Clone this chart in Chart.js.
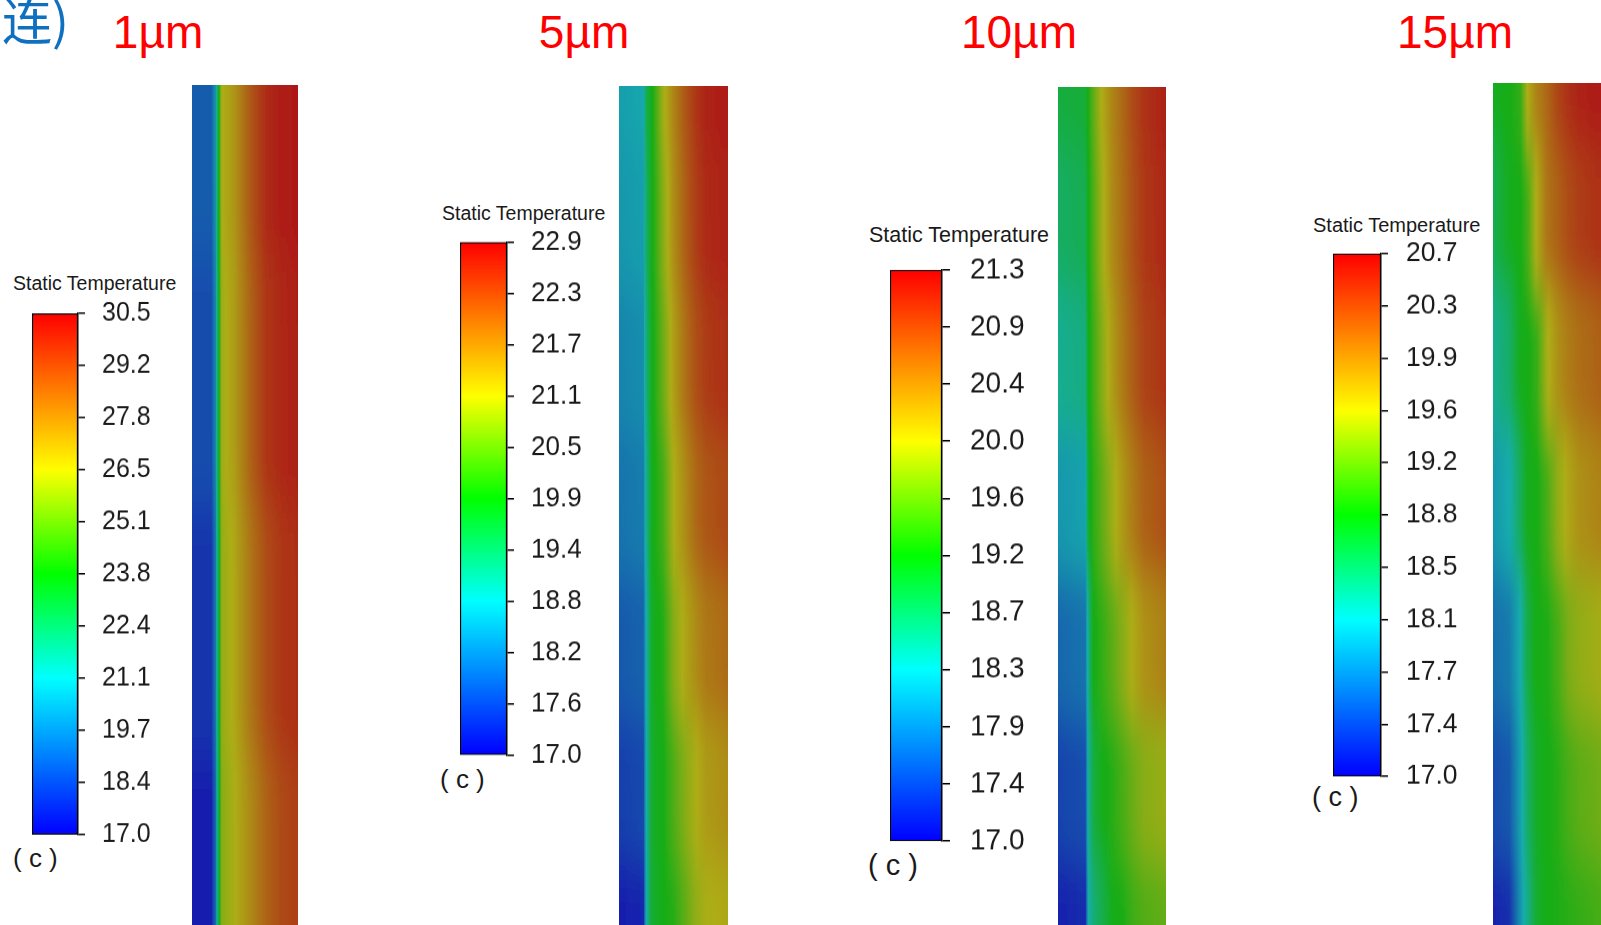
<!DOCTYPE html>
<html>
<head>
<meta charset="utf-8">
<script src="https://cdn.jsdelivr.net/npm/chart.js@4.4.0/dist/chart.umd.min.js"></script>
<style>
    html, body { margin: 0; padding: 0; background: #fff; overflow: hidden; }
    body { width: 1601px; height: 925px; position: relative; font-family: "Liberation Sans", Arial, sans-serif; }
    .abs { position: absolute; white-space: nowrap; }
    .title { color: #ff0000; font-size: 46px; line-height: 46px; width: 200px; text-align: center; top: 9px; }
    .lbl { color: #1a1a1a; }
    .clip { position: absolute; overflow: hidden; }
    canvas { position: absolute; display: block; }
    .smooth { filter: url(#vblur); }
</style>
</head>
<body>
<svg width="0" height="0" style="position:absolute">
    <filter id="vblur" x="0" y="0" width="1" height="1">
        <feGaussianBlur stdDeviation="0 26"/>
    </filter>
</svg>
<div class="abs" style="left:-15px;top:-7px;font-family:'Noto Sans CJK SC';font-size:50px;line-height:50px;color:#1070c0;">(连)</div>

<script>
// Panel names (film thickness)
const panelNames = ['1µm', '5µm', '10µm', '15µm'];

// Colour bar tick labels, bottom to top (°C)
const ticks1 = [17.0, 18.4, 19.7, 21.1, 22.4, 23.8, 25.1, 26.5, 27.8, 29.2, 30.5];
const ticks5 = [17.0, 17.6, 18.2, 18.8, 19.4, 19.9, 20.5, 21.1, 21.7, 22.3, 22.9];
const ticks10 = [17.0, 17.4, 17.9, 18.3, 18.7, 19.2, 19.6, 20.0, 20.4, 20.9, 21.3];
const ticks15 = [17.0, 17.4, 17.7, 18.1, 18.5, 18.8, 19.2, 19.6, 19.9, 20.3, 20.7];

// Contour strips: column edges (% of strip width) and temperature at each edge, rows top to bottom
const stripX1 = [0, 18, 22, 25, 28, 40, 55, 70, 85, 100];
const strip1 = [
    [18.9, 18.9, 20.3, 23.5, 26.4, 27.1, 28.7, 29.9, 30.3, 30.4],
    [18.5, 18.5, 20.0, 23.3, 26.2, 26.9, 28.4, 29.6, 30.0, 30.2],
    [17.9, 17.9, 19.6, 23.0, 26.0, 26.6, 27.9, 29.0, 29.6, 29.8],
    [17.3, 17.3, 19.2, 22.8, 25.8, 26.4, 27.4, 28.4, 29.1, 29.4]
];

const stripX5 = [0, 22, 25, 30, 40, 50, 60, 70, 80, 100];
const strip5 = [
    [18.6, 18.7, 19.5, 19.9, 21.0, 21.6, 22.1, 22.5, 22.75, 22.8],
    [18.5, 18.6, 19.3, 19.9, 20.8, 21.5, 22.0, 22.4, 22.65, 22.75],
    [18.3, 18.4, 19.2, 19.85, 20.6, 21.3, 21.8, 22.2, 22.45, 22.6],
    [18.1, 18.2, 19.0, 19.85, 20.3, 21.1, 21.5, 21.9, 22.15, 22.3],
    [17.8, 17.9, 18.8, 19.8, 20.05, 20.8, 21.2, 21.5, 21.75, 21.9],
    [17.5, 17.6, 18.8, 19.75, 19.95, 20.4, 20.8, 21.1, 21.35, 21.5],
    [17.1, 17.2, 18.8, 19.7, 19.95, 20.1, 20.5, 20.9, 21.1, 21.2]
];

const stripX10 = [0, 25, 28, 33, 40, 50, 60, 70, 80, 100];
const strip10 = [
    [18.9, 18.95, 19.2, 19.6, 20.0, 20.35, 20.6, 20.85, 21.05, 21.2],
    [18.7, 18.8, 19.15, 19.5, 19.9, 20.3, 20.55, 20.8, 21.0, 21.15],
    [18.45, 18.55, 19.1, 19.4, 19.75, 20.15, 20.45, 20.7, 20.9, 21.05],
    [18.1, 18.2, 19.0, 19.3, 19.55, 19.9, 20.2, 20.45, 20.65, 20.8],
    [17.7, 17.8, 18.5, 19.15, 19.3, 19.55, 19.8, 20.05, 20.25, 20.4],
    [17.4, 17.5, 18.4, 18.9, 19.1, 19.25, 19.45, 19.65, 19.8, 19.9],
    [17.1, 17.2, 18.3, 18.6, 18.8, 19.1, 19.2, 19.4, 19.5, 19.6]
];

const stripX15 = [0, 15, 25, 32, 40, 50, 60, 70, 80, 100];
const strip15 = [
    [18.78, 18.85, 19.0, 19.6, 19.9, 20.1, 20.35, 20.5, 20.6, 20.65],
    [18.55, 18.8, 18.85, 19.1, 19.6, 20.0, 20.15, 20.3, 20.4, 20.5],
    [18.25, 18.45, 18.8, 18.85, 19.0, 19.55, 19.8, 19.95, 20.05, 20.15],
    [17.95, 18.1, 18.5, 18.8, 18.85, 19.1, 19.45, 19.65, 19.8, 19.9],
    [17.65, 17.75, 18.1, 18.6, 18.85, 18.9, 19.1, 19.35, 19.45, 19.55],
    [17.4, 17.5, 18.0, 18.45, 18.75, 18.85, 18.95, 19.1, 19.2, 19.3],
    [17.1, 17.2, 17.9, 18.3, 18.7, 18.85, 18.9, 18.95, 19.0, 19.1]
];

// page layout for each panel (pixels)
const panels = [
    { name: panelNames[0], ticks: ticks1, xs: stripX1, rows: strip1, titleX: 158,
      bar: [32, 312, 46, 524], font: 25, tickLen: 7, pad: 17,
      st: [13, 274, 19.5], cLbl: [13, 845, 26], strip: [192, 85, 106, 840] },
    { name: panelNames[1], ticks: ticks5, xs: stripX5, rows: strip5, titleX: 584,
      bar: [460, 241, 47, 515], font: 26, tickLen: 7, pad: 17,
      st: [442, 204, 19.5], cLbl: [440, 766, 26], strip: [619, 86, 109, 839] },
    { name: panelNames[2], ticks: ticks10, xs: stripX10, rows: strip10, titleX: 1019,
      bar: [890, 268, 52, 575], font: 28, tickLen: 8, pad: 20,
      st: [869, 225, 21.5], cLbl: [868, 851, 29], strip: [1058, 87, 108, 838] },
    { name: panelNames[3], ticks: ticks15, xs: stripX15, rows: strip15, titleX: 1455,
      bar: [1333, 252, 48, 526], font: 26.5, tickLen: 7, pad: 18,
      st: [1313, 215, 20], cLbl: [1312, 784, 27], strip: [1493, 83, 108, 842] }
];

// Fluent-style rainbow colour map
const cmapStops = [
    [0, [0, 0, 255]],
    [0.3, [0, 255, 255]],
    [0.5, [0, 255, 0]],
    [0.7, [255, 255, 0]],
    [1, [255, 0, 0]]
];

function cmap(f) {
    f = Math.max(0, Math.min(1, f));
    for (let i = 1; i < cmapStops.length; i++) {
        const [f1, c1] = cmapStops[i];
        const [f0, c0] = cmapStops[i - 1];
        if (f <= f1) {
            const t = (f - f0) / (f1 - f0);
            return c0.map((v, k) => v + (c1[k] - v) * t);
        }
    }
    return cmapStops[cmapStops.length - 1][1];
}

function toColor(f, shaded) {
    const c = cmap(f).map(v => shaded ? v * 0.6 + 20 : v);
    return 'rgb(' + c.map(v => Math.round(v)).join(',') + ')';
}

// gradient stops between two fractions, adding colour-map breakpoints in between
function addStops(g, f0, f1, shaded) {
    g.addColorStop(0, toColor(f0, shaded));
    if (f1 !== f0) {
        cmapStops.forEach(([fs]) => {
            const t = (fs - f0) / (f1 - f0);
            if (t > 0 && t < 1) g.addColorStop(t, toColor(fs, shaded));
        });
    }
    g.addColorStop(1, toColor(f1, shaded));
}

function makeCanvas(x, y, w, h, parent) {
    const cv = document.createElement('canvas');
    cv.width = w; cv.height = h;
    cv.style.left = x + 'px'; cv.style.top = y + 'px';
    cv.style.width = w + 'px'; cv.style.height = h + 'px';
    (parent || document.body).appendChild(cv);
    return cv;
}

function addText(text, cls, style) {
    const d = document.createElement('div');
    d.className = 'abs ' + cls;
    d.textContent = text;
    Object.assign(d.style, style);
    document.body.appendChild(d);
}

function displayColorBar(p) {
    const ticks = p.ticks;
    const lo = ticks[0], hi = ticks[ticks.length - 1];
    const [bx, by, bw, bh] = p.bar;
    const axisW = 90;
    const cv = makeCanvas(bx, by - 20, bw + axisW, bh + 40);
    const chart = new Chart(cv.getContext('2d'), {
        type: 'bar',
        data: {
            labels: [''],
            datasets: [{
                data: [[lo, hi]],
                backgroundColor: (c) => {
                    const y = c.chart.scales.y;
                    if (!y || !c.chart.chartArea) return '#888';
                    const y0 = y.getPixelForValue(lo), y1 = y.getPixelForValue(hi);
                    if (!isFinite(y0) || !isFinite(y1)) return '#888';
                    const g = c.chart.ctx.createLinearGradient(0, y0, 0, y1);
                    addStops(g, 0, 1, false);
                    return g;
                },
                borderColor: '#000',
                borderWidth: 1.5,
                borderSkipped: false,
                barPercentage: 1,
                categoryPercentage: 1
            }]
        },
        options: {
            responsive: false,
            animation: false,
            devicePixelRatio: 1,
            layout: { padding: 0 },
            plugins: { legend: { display: false }, tooltip: { enabled: false } },
            scales: {
                x: { display: false },
                y: {
                    position: 'right',
                    min: lo,
                    max: hi,
                    afterBuildTicks: (s) => {
                        s.ticks = ticks.map((v, i) => ({ value: lo + i * (hi - lo) / (ticks.length - 1) }));
                    },
                    afterFit: (s) => { s.width = axisW; },
                    grid: { drawOnChartArea: false, drawTicks: true, tickLength: p.tickLen, color: '#000', lineWidth: 1.5 },
                    border: { display: true, color: '#000', width: 1.5 },
                    ticks: {
                        autoSkip: false,
                        padding: p.pad,
                        color: '#1a1a1a',
                        font: { family: 'Liberation Sans', size: p.font },
                        callback: (v, i) => ticks[i].toFixed(1)
                    }
                }
            }
        }
    });
    // fit the canvas so the bar lands on the colour bar's place in the picture
    const a = chart.chartArea;
    const h = bh + (cv.height - (a.bottom - a.top));
    chart.resize(bw + axisW, h);
    cv.style.height = h + 'px';
    cv.style.top = (by - chart.chartArea.top) + 'px';
}

function displayStrip(p) {
    const { xs, rows, ticks } = p;
    const lo = ticks[0], hi = ticks[ticks.length - 1];
    const [sx, sy, sw, sh] = p.strip;
    const ext = 80;   // drawn past the clip so the vertical smoothing has no faded edge
    const box = document.createElement('div');
    box.className = 'clip';
    Object.assign(box.style, { left: sx + 'px', top: sy + 'px', width: sw + 'px', height: sh + 'px' });
    document.body.appendChild(box);
    const cv = makeCanvas(0, -ext, sw, sh + ext * 2, box);
    cv.classList.add('smooth');
    const datasets = [];
    for (let i = 0; i < xs.length - 1; i++) {
        datasets.push({
            data: rows.map(() => [xs[i], xs[i + 1]]),
            backgroundColor: (c) => {
                const x = c.chart.scales.x;
                if (!x || !c.chart.chartArea || c.type !== 'data') return '#888';
                const r = rows[c.dataIndex];
                const x0 = x.getPixelForValue(xs[i]), x1 = x.getPixelForValue(xs[i + 1]);
                if (!isFinite(x0) || !isFinite(x1)) return '#888';
                const g = c.chart.ctx.createLinearGradient(x0, 0, x1, 0);
                addStops(g, (r[i] - lo) / (hi - lo), (r[i + 1] - lo) / (hi - lo), true);
                return g;
            },
            borderWidth: 0,
            inflateAmount: 0.7,
            grouped: false,
            barPercentage: 1,
            categoryPercentage: 1
        });
    }
    new Chart(cv.getContext('2d'), {
        type: 'bar',
        data: { labels: rows.map((r, i) => 'row' + i), datasets },
        options: {
            indexAxis: 'y',
            responsive: false,
            animation: false,
            devicePixelRatio: 1,
            layout: { padding: 0 },
            plugins: { legend: { display: false }, tooltip: { enabled: false } },
            scales: {
                x: { display: false, min: 0, max: 100 },
                y: { display: false }
            }
        }
    });
}

panels.forEach(p => {
    addText(p.name, 'title', { left: (p.titleX - 100) + 'px' });
    addText('Static Temperature', 'lbl', {
        left: p.st[0] + 'px', top: p.st[1] + 'px', fontSize: p.st[2] + 'px', lineHeight: p.st[2] + 'px'
    });
    addText('( c )', 'lbl', {
        left: p.cLbl[0] + 'px', top: p.cLbl[1] + 'px', fontSize: p.cLbl[2] + 'px', lineHeight: p.cLbl[2] + 'px'
    });
    displayStrip(p);
    displayColorBar(p);
});
</script>
</body>
</html>
